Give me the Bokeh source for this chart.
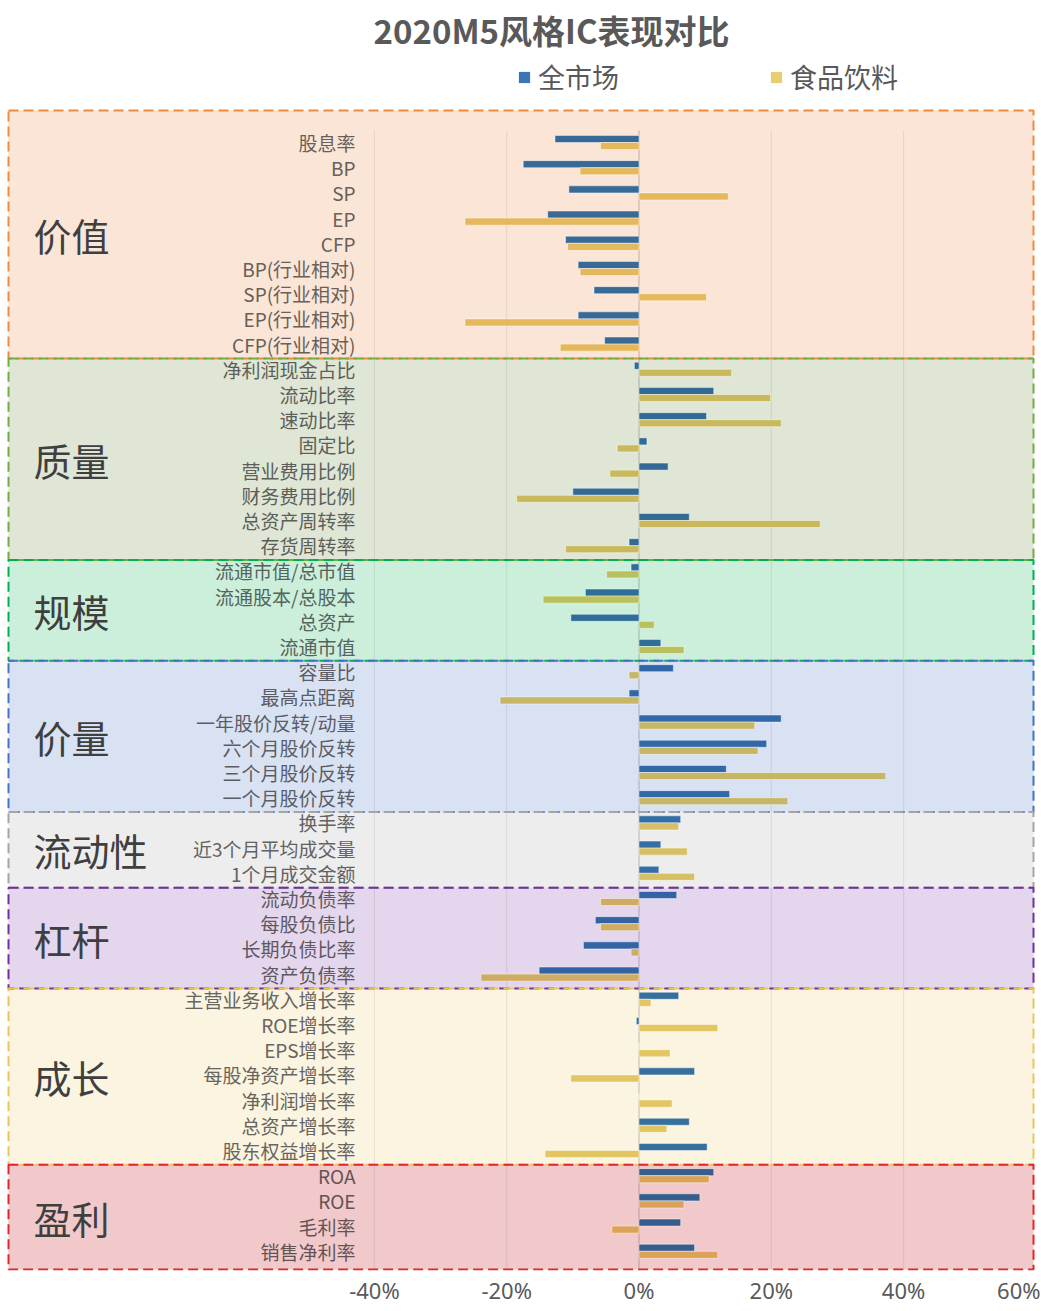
from bokeh.plotting import figure
from bokeh.models import ColumnDataSource, Range1d, Legend, LegendItem, FixedTicker, PrintfTickFormatter
from bokeh.core.properties import value
from bokeh.embed import file_html
from bokeh.resources import INLINE

# ---------------- data ----------------
title_text = "2020M5风格IC表现对比"
series_names = ["全市场", "食品饮料"]

groups = ["价值", "质量", "规模", "价量", "流动性", "杠杆", "成长", "盈利"]
group_sizes = [9, 8, 4, 6, 3, 4, 7, 4]

categories = [
    "股息率", "BP", "SP", "EP", "CFP", "BP(行业相对)", "SP(行业相对)", "EP(行业相对)", "CFP(行业相对)",
    "净利润现金占比", "流动比率", "速动比率", "固定比", "营业费用比例", "财务费用比例", "总资产周转率", "存货周转率",
    "流通市值/总市值", "流通股本/总股本", "总资产", "流通市值",
    "容量比", "最高点距离", "一年股价反转/动量", "六个月股价反转", "三个月股价反转", "一个月股价反转",
    "换手率", "近3个月平均成交量", "1个月成交金额",
    "流动负债率", "每股负债比", "长期负债比率", "资产负债率",
    "主营业务收入增长率", "ROE增长率", "EPS增长率", "每股净资产增长率", "净利润增长率", "总资产增长率", "股东权益增长率",
    "ROA", "ROE", "毛利率", "销售净利率",
]

market = [
    -12.7, -17.5, -10.6, -13.8, -11.1, -9.2, -6.8, -9.2, -5.2,
    -0.7, 11.3, 10.2, 1.2, 4.4, -10.0, 7.6, -1.5,
    -1.2, -8.1, -10.3, 3.3,
    5.2, -1.5, 21.5, 19.3, 13.2, 13.7,
    6.3, 3.3, 3.0,
    5.7, -6.6, -8.4, -15.1,
    6.0, -0.4, 0.0, 8.4, 0.0, 7.6, 10.3,
    11.3, 9.2, 6.3, 8.4,
]

food = [
    -5.8, -8.9, 13.5, -26.3, -10.8, -8.9, 10.2, -26.3, -11.9,
    14.0, 19.9, 21.5, -3.3, -4.4, -18.5, 27.4, -11.1,
    -4.9, -14.5, 2.3, 6.8,
    -1.5, -21.0, 17.5, 18.0, 37.3, 22.5,
    6.0, 7.3, 8.4,
    -5.8, -5.8, -1.2, -23.9,
    1.8, 11.9, 4.7, -10.3, 5.0, 4.2, -14.2,
    10.6, 6.8, -4.1, 11.9,
]

x_ticks = [-40, -20, 0, 20, 40, 60]
grid_ticks = [-40, -20, 20, 40]

# ---------------- styles ----------------
BLUE = "#3A76B2"
GOLD = "#E8CE6E"
LABEL = "#6A6A6A"
group_bg = ["#FBE5D6", "#DFE6D6", "#CCEFDB", "#D9E2F3", "#EDEDED", "#E4D6EC", "#FAF4E1", "#F2C9CB"]
group_border = ["#F08A3C", "#70AD47", "#00B050", "#4472C4", "#A5A5A5", "#7030A0", "#E8C75A", "#E0262B"]


def rgb(h):
    h = h.lstrip("#")
    return tuple(int(h[i:i + 2], 16) for i in (0, 2, 4))


def mul(a, b):
    return "#%02x%02x%02x" % tuple(int(x * y / 255) for x, y in zip(rgb(a), rgb(b)))


# ---------------- layout (pixels) ----------------
FRAME_W = 1040
FRAME_TOP = 55          # page px of frame top
FRAME_BOTTOM = 1270     # page px of frame bottom
FRAME_H = FRAME_BOTTOM - FRAME_TOP
ZERO_PX = 638.5         # page px of 0%
PX_PER_PCT = 6.615
ROW0_PX = 142.0         # page px of first row centre
PX_PER_ROW = 25.2

X_LEFT = -ZERO_PX / PX_PER_PCT
X_RIGHT = (FRAME_W - ZERO_PX) / PX_PER_PCT
Y_TOP = (FRAME_TOP - ROW0_PX) / PX_PER_ROW
Y_BOT = (FRAME_BOTTOM - ROW0_PX) / PX_PER_ROW

def xd(px):
    return (px - ZERO_PX) / PX_PER_PCT

def yd(px):
    return (px - ROW0_PX) / PX_PER_ROW

box_left, box_right = xd(8), xd(1033)
label_x = xd(355)
group_x = xd(33)
bar_h = 0.28

# ---------------- derived ----------------
rows = list(range(len(categories)))
row_group = []
for gi, n in enumerate(group_sizes):
    row_group += [gi] * n

starts = []
s = 0
for n in group_sizes:
    starts.append(s)
    s += n
delta = 0.07
g_top = [st - 0.5 + delta for st in starts]
g_bot = [st + n - 0.5 + delta for st, n in zip(starts, group_sizes)]
g_top[0] = yd(110)
g_bot[-1] = yd(1269)
g_mid = [(a + b) / 2 for a, b in zip(g_top, g_bot)]

src = ColumnDataSource(dict(
    y=rows,
    cat=categories,
    market=market,
    food=food,
    y_m=[r - bar_h / 2 for r in rows],
    y_f=[r + bar_h / 2 for r in rows],
    c_m=[mul(BLUE, group_bg[g]) for g in row_group],
    c_f=[mul(GOLD, group_bg[g]) for g in row_group],
    c_t=[mul(LABEL, group_bg[g]) for g in row_group],
    lx=[label_x] * len(rows),
))

gsrc = ColumnDataSource(dict(
    left=[box_left] * len(groups), right=[box_right] * len(groups),
    top=g_top, bottom=g_bot, bg=group_bg, border=group_border,
    name=groups, gx=[group_x] * len(groups), gy=g_mid,
))

p = figure(frame_width=FRAME_W, frame_height=FRAME_H,
           x_range=Range1d(X_LEFT, X_RIGHT), y_range=Range1d(Y_BOT, Y_TOP),
           output_backend="svg", toolbar_location=None,
           y_axis_location=None,
           min_border_left=0, min_border_right=0, min_border_top=FRAME_TOP, min_border_bottom=0)
p.outline_line_color = None
p.grid.visible = False
p.background_fill_color = "white"

p.title.text = title_text
p.title.align = "left"
p.title.offset = 373
p.title.standoff = 3
p.title.text_font = "Noto Sans CJK SC"
p.title.text_font_size = "33px"
p.title.text_font_style = "bold"
p.title.text_color = "#595959"

# group background fills
p.quad(left="left", right="right", top="top", bottom="bottom", source=gsrc,
       fill_color="bg", line_color=None)

# grid lines
g_y0 = yd(130)
p.segment(x0=grid_ticks, x1=grid_ticks, y0=[g_y0] * len(grid_ticks), y1=[Y_BOT] * len(grid_ticks),
          line_color="#000000", line_alpha=0.07, line_width=1.2)
p.segment(x0=[0], x1=[0], y0=[g_y0], y1=[Y_BOT], line_color="#000000", line_alpha=0.16, line_width=1.5)

# bars
p.hbar(y="y_m", left=0, right="market", height=bar_h, source=src,
       fill_color="c_m", line_color="white", line_alpha=0.45, line_width=1)
p.hbar(y="y_f", left=0, right="food", height=bar_h, source=src,
       fill_color="c_f", line_color="white", line_alpha=0.45, line_width=1)

# category labels
p.text(x="lx", y="y", text="cat", source=src, text_align="right", text_baseline="middle",
       text_font=value("Noto Sans CJK SC"), text_font_size="19px", text_color="c_t")

# group names
p.text(x="gx", y="gy", text="name", source=gsrc, text_align="left", text_baseline="middle",
       text_font=value("Noto Sans CJK SC"), text_font_size="38px", text_color="#3F3F3F")

# group borders
p.quad(left="left", right="right", top="top", bottom="bottom", source=gsrc,
       fill_color=None, line_color="border", line_width=2, line_dash="10 5")

# legend proxies (no visible data, only swatches)
nan = float("nan")
proxy = ColumnDataSource(dict(y=[nan], v=[nan]))
lm = p.hbar(y="y", right="v", left=0, height=0.3, source=proxy, fill_color=BLUE, line_color=None)
lf = p.hbar(y="y", right="v", left=0, height=0.3, source=proxy, fill_color=GOLD, line_color=None)
legend = Legend(items=[LegendItem(label=series_names[0], renderers=[lm]),
                       LegendItem(label=series_names[1], renderers=[lf])],
                orientation="horizontal", location=(517, FRAME_H - (96 - FRAME_TOP)),
                glyph_width=14, glyph_height=14, label_standoff=7, spacing=150,
                label_text_font="Noto Sans CJK SC", label_text_font_size="27px",
                label_text_color="#595959", border_line_color=None,
                background_fill_alpha=0, padding=0, margin=0)
p.add_layout(legend)

# x axis
p.xaxis.ticker = FixedTicker(ticks=x_ticks)
p.xaxis.formatter = PrintfTickFormatter(format="%d%%")
p.xaxis.axis_line_color = None
p.xaxis.major_tick_line_color = None
p.xaxis.minor_tick_line_color = None
p.xaxis.major_tick_out = 0
p.xaxis.major_tick_in = 0
p.xaxis.major_label_standoff = 4
p.xaxis.major_label_text_font = "Noto Sans"
p.xaxis.major_label_text_font_size = "22px"
p.xaxis.major_label_text_color = "#595959"

open("out.html", "w").write(file_html(p, INLINE))
